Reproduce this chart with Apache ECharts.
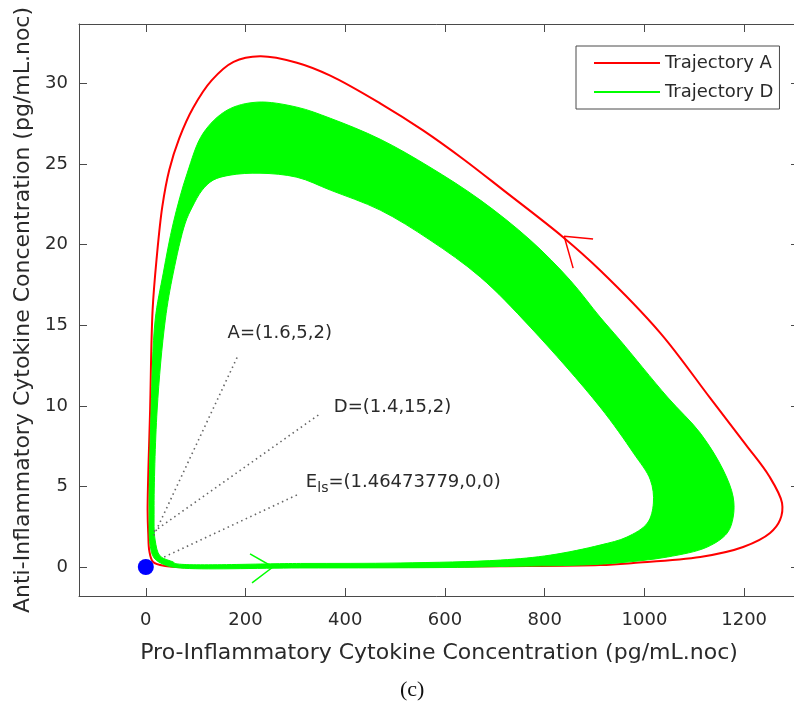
<!DOCTYPE html>
<html lang="en">
<head>
    <meta charset="UTF-8">
    <title>Trajectories</title>
    <script src="https://cdn.jsdelivr.net/npm/echarts@6/dist/echarts.min.js"></script>
</head>
<body style="margin:0">
<div id="main" style="width: 794px; height: 706px"></div>
</body>
<script>
    // tick labels
    let xTicks = [0, 200, 400, 600, 800, 1000, 1200];
    let yTicks = [0, 5, 10, 15, 20, 25, 30];

    // Trajectory A (red limit cycle), [pro, anti], one closed loop
    let trajA = [
        [5, 2.0], [7, 1.0], [14.6, 0.31], [39, 0.06], [209, 0.02], [510, 0.02], [711, 0.05],
        [911, 0.12], [978, 0.25], [1112, 0.62], [1198, 1.24], [1252, 2.11], [1272, 2.92],
        [1276, 3.97], [1250, 5.65], [1204, 7.57], [1132, 10.48], [1032, 14.52], [911, 18.42],
        [837, 20.47], [717, 23.39], [637, 25.31], [556, 27.1], [470, 28.78], [370, 30.5],
        [303, 31.3], [229, 31.7], [176, 31.35], [132, 30.2], [95, 28.5], [67, 26.6],
        [47, 24.64], [33, 22.35], [22, 19.25], [13.6, 15.94], [8.6, 9.74], [3.6, 3.54]
    ];

    // Trajectory D: outer and inner edge of the band of loops
    let trajDOuter = [
        [68.8, -0.06], [309, -0.06], [610, -0.03], [711, 0.03], [872, 0.12], [945, 0.25],
        [1046, 0.62], [1126, 1.24], [1166, 2.11], [1178, 3.1], [1178, 4.34], [1158, 6.02],
        [1112, 8.31], [1046, 10.55], [951, 14.08], [911, 15.51], [851, 17.8], [771, 20.29],
        [671, 22.77], [570, 24.81], [470, 26.55], [370, 27.85], [303, 28.54], [223, 28.85],
        [163, 28.35], [115, 26.92], [83, 24.44], [55, 21.34], [35, 18.24], [18.7, 15.32],
        [10.6, 9.74], [6.6, 3.54], [8.6, 1.36], [16.6, 0.56], [38.7, 0.12]
    ];
    let trajDInner = [
        [59, 0.22], [310, 0.22], [510, 0.25], [711, 0.43], [812, 0.74], [911, 1.36],
        [965, 1.86], [1006, 2.73], [1018, 3.97], [1012, 5.4], [978, 7.07], [911, 9.93],
        [771, 14.89], [671, 17.99], [570, 20.29], [470, 22.15], [370, 23.39], [303, 24.19],
        [229, 24.44], [169, 24.32], [135, 24.01], [113, 23.39], [93, 22.33], [79, 21.34],
        [55, 18.24], [39, 15.32], [22.7, 9.74], [16.6, 3.54], [18.7, 1.67], [28.7, 0.68],
        [55, 0.31]
    ];

    // direction arrows
    let arrowD = [[209, 0.81], [255, 0], [213, -0.99]];
    let arrowA = [[897, 20.35], [839, 20.53], [857, 18.55]];

    // annotation leaders and labels
    let leaderA = [[183, 13.0], [14.6, 1.86]];
    let leaderD = [[346, 9.43], [14.6, 2.17]];
    let leaderE = [[303, 4.47], [32.7, 0.56]];
    let notes = [
        [163, 14.52, 'A=(1.6,5,2)'],
        [376, 9.93, 'D=(1.4,15,2)'],
        [320, 5.27, 'E{sub|ls}=(1.46473779,0,0)']
    ];
    let equilibrium = [[0, 0]];

    let font = 'DejaVu Sans';
    let ink = '#2a2a2a';
    let axisColor = '#4a4a4a';

    let myChart = echarts.init(document.getElementById('main'));

    // closed centripetal catmull-rom through pixel points -> svg path
    function loopPath(pts) {
        let n = pts.length;
        let s = 'M' + pts[0][0] + ',' + pts[0][1];
        function d(a, b) {
            return Math.max(Math.pow(Math.hypot(b[0] - a[0], b[1] - a[1]), 0.5), 1e-4);
        }
        for (let i = 0; i < n; i++) {
            let p0 = pts[(i - 1 + n) % n], p1 = pts[i], p2 = pts[(i + 1) % n], p3 = pts[(i + 2) % n];
            let a1 = d(p0, p1), a2 = d(p1, p2), a3 = d(p2, p3);
            let c1 = [], c2 = [];
            for (let k = 0; k < 2; k++) {
                c1[k] = (a1 * a1 * p2[k] - a2 * a2 * p0[k] + (2 * a1 * a1 + 3 * a1 * a2 + a2 * a2) * p1[k]) / (3 * a1 * (a1 + a2));
                c2[k] = (a3 * a3 * p1[k] - a2 * a2 * p3[k] + (2 * a3 * a3 + 3 * a3 * a2 + a2 * a2) * p2[k]) / (3 * a3 * (a3 + a2));
            }
            s += 'C' + c1[0] + ',' + c1[1] + ' ' + c2[0] + ',' + c2[1] + ' ' + p2[0] + ',' + p2[1];
        }
        return s + 'Z';
    }

    function leader(d) {
        return {
            type: 'line', data: d, showSymbol: false, silent: true, z: 4,
            lineStyle: {color: '#666', width: 1.6, type: [1.5, 3.5]}
        };
    }
    function arrow(d, c) {
        return {
            type: 'line', data: d, showSymbol: false, silent: true, z: 5,
            lineStyle: {color: c, width: 1.5}
        };
    }
    function plain(v) { return String(v); }

    let option = {
        animation: false,
        backgroundColor: '#fff',
        textStyle: {fontFamily: font},
        grid: {left: 79, top: 24, right: -5, bottom: 110, outerBoundsMode: 'none'},
        legend: {
            orient: 'vertical',
            left: 576, top: 46,
            padding: [7, 6, 7, 18],
            itemGap: 9,
            itemWidth: 66, itemHeight: 2,
            icon: 'rect',
            borderColor: axisColor, borderWidth: 1,
            backgroundColor: '#fff',
            textStyle: {fontFamily: font, fontSize: 18, color: ink, lineHeight: 20},
            data: ['Trajectory A', 'Trajectory D']
        },
        xAxis: [{
            type: 'value', min: -134, max: 1310, position: 'bottom',
            name: 'Pro-Inflammatory Cytokine Concentration (pg/mL.noc)',
            nameLocation: 'middle', nameGap: 46,
            nameTextStyle: {fontFamily: font, fontSize: 22, color: ink},
            axisLine: {show: true, onZero: false, lineStyle: {color: axisColor}},
            axisTick: {inside: true, length: 8, customValues: xTicks, lineStyle: {color: axisColor}},
            axisLabel: {customValues: xTicks, formatter: plain, margin: 15, fontFamily: font, fontSize: 18, color: ink},
            splitLine: {show: false}
        }, {
            type: 'value', min: -134, max: 1310, position: 'top',
            axisLine: {show: true, onZero: false, lineStyle: {color: axisColor}},
            axisTick: {inside: true, length: 8, customValues: xTicks, lineStyle: {color: axisColor}},
            axisLabel: {show: false},
            splitLine: {show: false}
        }],
        yAxis: [{
            type: 'value', min: -1.8, max: 33.7, position: 'left',
            name: 'Anti-Inflammatory Cytokine Concentration (pg/mL.noc)',
            nameLocation: 'middle', nameGap: 45,
            nameTextStyle: {fontFamily: font, fontSize: 22, color: ink},
            axisLine: {show: true, onZero: false, lineStyle: {color: axisColor}},
            axisTick: {inside: true, length: 8, customValues: yTicks, lineStyle: {color: axisColor}},
            axisLabel: {customValues: yTicks, formatter: plain, margin: 11, fontFamily: font, fontSize: 18, color: ink},
            splitLine: {show: false}
        }, {
            type: 'value', min: -1.8, max: 33.7, position: 'right',
            axisLine: {show: true, onZero: false, lineStyle: {color: axisColor}},
            axisTick: {inside: true, length: 8, customValues: yTicks, lineStyle: {color: axisColor}},
            axisLabel: {show: false},
            splitLine: {show: false}
        }],
        graphic: [{
            type: 'text', left: 400, top: 679,
            style: {text: '(c)', font: '22px "Liberation Serif"', fill: '#111'}
        }],
        series: [
            {
                name: 'Trajectory A', type: 'custom', z: 2,
                itemStyle: {color: '#ff0000'},
                data: [[0, 0]],
                renderItem: function (params, api) {
                    let pts = trajA.map(function (p) { return api.coord(p); });
                    return {
                        type: 'path',
                        shape: {pathData: loopPath(pts)},
                        style: {fill: 'none', stroke: '#ff0000', lineWidth: 2}
                    };
                }
            },
            {
                name: 'Trajectory D', type: 'custom', z: 3,
                itemStyle: {color: '#00ff00'},
                data: [[0, 0]],
                renderItem: function (params, api) {
                    let outer = trajDOuter.map(function (p) { return api.coord(p); });
                    let inner = trajDInner.map(function (p) { return api.coord(p); });
                    return {
                        type: 'group',
                        children: [
                            {type: 'path', shape: {pathData: loopPath(outer)}, style: {fill: '#00ff00', stroke: '#00ff00', lineWidth: 1}},
                            {type: 'path', shape: {pathData: loopPath(inner)}, style: {fill: '#fff', stroke: '#00ff00', lineWidth: 1}}
                        ]
                    };
                }
            },
            arrow(arrowD, '#00ff00'),
            arrow(arrowA, '#ff0000'),
            leader(leaderA),
            leader(leaderD),
            leader(leaderE),
            {
                type: 'scatter', data: notes, symbolSize: 1, silent: true, z: 6,
                itemStyle: {color: 'rgba(0,0,0,0)', opacity: 1},
                label: {
                    show: true, position: 'right', distance: 0,
                    fontFamily: font, fontSize: 18, color: ink, opacity: 1,
                    formatter: function (p) { return p.value[2]; },
                    rich: {
                        sub: {fontFamily: font, fontSize: 14, color: ink, padding: [12, 0, 0, 0]}
                    }
                }
            },
            {
                type: 'scatter', data: equilibrium, symbolSize: 16, z: 7, silent: true,
                itemStyle: {color: '#0000ff', opacity: 1}
            }
        ]
    };
    myChart.setOption(option);
</script>
</html>
